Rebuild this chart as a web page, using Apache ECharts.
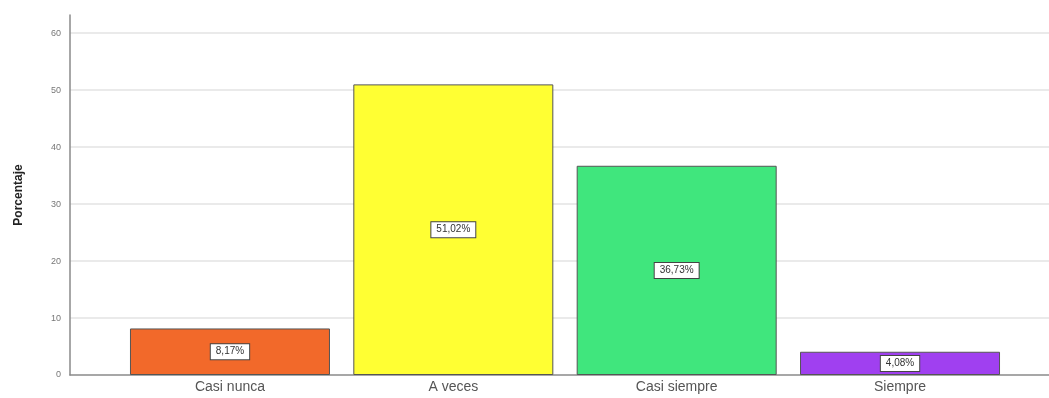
<!DOCTYPE html>
<html>
<head>
<meta charset="utf-8">
<script src="https://cdn.jsdelivr.net/npm/echarts@6/dist/echarts.min.js"></script>
<style>
  html, body { margin: 0; padding: 0; background: #ffffff; }
  #chart { width: 1049px; height: 398px; }
</style>
</head>
<body>
<div id="chart"></div>
<script>
// Frequency distribution of responses (percent)
const categories = ['Casi nunca', 'A veces', 'Casi siempre', 'Siempre'];
const percentages = [8.17, 51.02, 36.73, 4.08];
const barColors = ['#F2692A', '#FFFF33', '#40E67D', '#A040F0'];
const yTicks = [0, 10, 20, 30, 40, 50, 60];

const Y_MAX = 63.2;
const fontFamily = '"Liberation Sans", Arial, sans-serif';

const chart = echarts.init(document.getElementById('chart'), null, { renderer: 'canvas' });

chart.setOption({
  backgroundColor: '#ffffff',
  animation: false,
  grid: [
    // frame: y axis, gridlines and baseline
    { left: 70, right: 0, top: 15, bottom: 23 },
    // bars: category bands
    { left: 118.3, right: 37.3, top: 15, bottom: 23 }
  ],
  xAxis: [
    {
      gridIndex: 0, type: 'value', min: 0, max: 1,
      axisLine: { show: true, lineStyle: { color: '#8a8a8a', width: 1.5 } },
      axisTick: { show: false }, axisLabel: { show: false }, splitLine: { show: false }
    },
    {
      gridIndex: 1, type: 'category', data: categories,
      axisLine: { show: false }, axisTick: { show: false },
      axisLabel: { color: '#555555', fontSize: 14, fontFamily: fontFamily, margin: 5 }
    }
  ],
  yAxis: [
    {
      gridIndex: 0, type: 'value', min: 0, max: Y_MAX, interval: 10,
      name: 'Porcentaje', nameLocation: 'middle', nameGap: 45,
      nameTextStyle: { color: '#222222', fontSize: 12, fontWeight: 'bold', fontFamily: fontFamily },
      axisLine: { show: true, lineStyle: { color: '#8a8a8a', width: 1.5 } },
      axisTick: { show: false },
      axisLabel: {
        color: '#777777', fontSize: 9, fontFamily: fontFamily, margin: 9,
        showMaxLabel: false,
        formatter: v => (yTicks.indexOf(v) >= 0 ? String(v) : '')
      },
      splitLine: { show: true, showMinLine: false, showMaxLine: false, lineStyle: { color: '#e3e3e3', width: 1.5 } }
    },
    {
      gridIndex: 1, type: 'value', min: 0, max: Y_MAX, show: false
    }
  ],
  series: [
    {
      type: 'bar',
      xAxisIndex: 1, yAxisIndex: 1,
      barWidth: 200,
      data: percentages.map((v, i) => ({
        value: v,
        itemStyle: { color: barColors[i], borderColor: '#555555', borderWidth: 1 }
      })),
      label: {
        show: true,
        position: 'inside',
        formatter: p => p.value.toFixed(2).replace('.', ',') + '%',
        color: '#333333',
        fontSize: 10,
        fontFamily: fontFamily,
        backgroundColor: '#ffffff',
        borderColor: '#444444',
        borderWidth: 1,
        padding: [3, 5, 2, 5]
      }
    }
  ]
});
</script>
</body>
</html>
